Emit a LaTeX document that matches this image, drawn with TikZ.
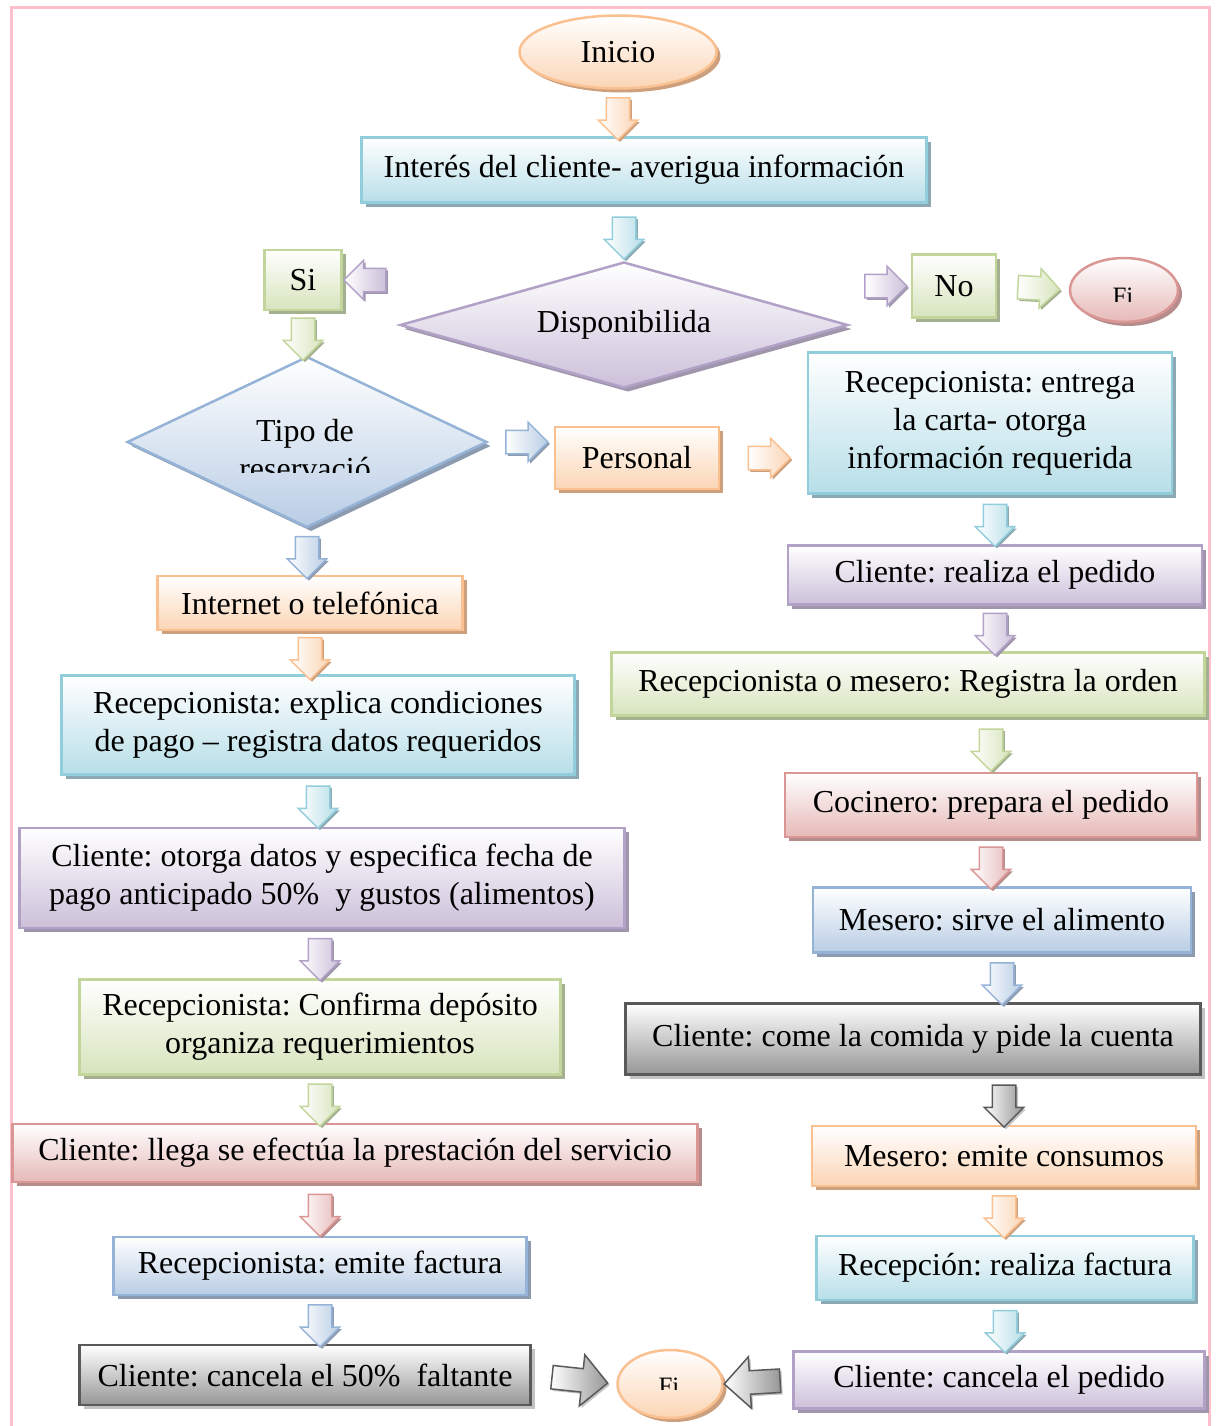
\documentclass[tikz,border=0pt]{standalone}
\usepackage{fontspec}
\setmainfont{Liberation Serif}
\frenchspacing
\usetikzlibrary{shapes.geometric, shapes.arrows, shadows}
\definecolor{narB}{RGB}{250,192,144}
\definecolor{narF}{RGB}{251,213,181}
\definecolor{narS}{RGB}{205,160,125}
\definecolor{aquB}{RGB}{146,205,220}
\definecolor{aquF}{RGB}{183,222,232}
\definecolor{aquS}{RGB}{140,168,178}
\definecolor{lilB}{RGB}{178,161,199}
\definecolor{lilF}{RGB}{204,192,218}
\definecolor{lilS}{RGB}{160,150,172}
\definecolor{verB}{RGB}{194,214,155}
\definecolor{verF}{RGB}{215,228,189}
\definecolor{verS}{RGB}{165,176,145}
\definecolor{rojB}{RGB}{217,150,148}
\definecolor{rojF}{RGB}{230,185,184}
\definecolor{rojS}{RGB}{182,140,140}
\definecolor{azuB}{RGB}{149,179,215}
\definecolor{azuF}{RGB}{185,205,229}
\definecolor{azuS}{RGB}{140,155,176}
\definecolor{griB}{RGB}{89,89,89}
\definecolor{griF}{RGB}{150,150,150}
\definecolor{griS}{RGB}{195,195,195}
\definecolor{marco}{RGB}{255,192,203}
\tikzset{
  caja/.style  ={rectangle, draw=#1B, line width=2.5pt, top color=white, bottom color=#1F, align=center, inner sep=2pt,
                 drop shadow={fill=#1S, opacity=1, shadow xshift=4pt, shadow yshift=-4pt}},
  elip/.style  ={caja=#1, ellipse},
  rombo/.style ={caja=#1, diamond, inner sep=0pt},
  flecha/.style={single arrow, draw=#1B, line width=1.5pt, left color=white, right color=#1F, inner xsep=0pt, inner ysep=11pt,
                 minimum height=42pt, single arrow head extend=8pt, sloped, allow upside down,
                 drop shadow={fill=#1S, opacity=1, shadow xshift=2pt, shadow yshift=-2pt}},
  txt/.style   ={inner sep=0pt, align=center},
}
\begin{document}
\begin{tikzpicture}[x=1pt, y=-1pt, font=\fontsize{32}{38}\selectfont]
  \useasboundingbox (0,0) rectangle (1215,1426);
  \draw[marco, line width=3pt] (11,8) rectangle (1209,1440);

  \node[elip=nar, minimum width=197pt, minimum height=73pt] (ini) at (618,52) {Inicio};
  \node[caja=aqu, minimum width=565pt, minimum height=65pt] (int) at (644,170) {Interés del cliente- averigua información};
  \node[rombo=lil, aspect=3.55, minimum width=448pt, minimum height=126pt] (disp) at (624,325) {Disponibilida};
  \node[caja=ver, minimum width=77pt, minimum height=60pt] (si) at (303,280) {Si};
  \node[caja=ver, minimum width=84pt, minimum height=63pt] (no) at (954,286) {No};
  \node[elip=roj, minimum width=108pt, minimum height=64pt] (fin1) at (1124,290) {};
  \begin{scope}
    \clip (1080,270) rectangle (1170,301);
    \node[txt, anchor=base, font=\fontsize{25}{30}\selectfont] (fin1t) at (1123,304) {Fi};
  \end{scope}
  \node[rombo=azu, aspect=2.1, minimum width=360pt, minimum height=171pt] (tipo) at (307,442) {};
  \begin{scope}
    \clip (150,400) rectangle (470,472);
    \node[txt] (tipot) at (305,450) {Tipo de\\reservació};
  \end{scope}
  \node[caja=nar, minimum width=164pt, minimum height=62pt] (per) at (637,458) {Personal};
  \node[caja=aqu, minimum width=364pt, minimum height=141pt] (rent) at (990,423) {Recepcionista: entrega\\la carta- otorga\\información requerida};
  \node[caja=nar, minimum width=305pt, minimum height=54pt] (inet) at (310,603) {Internet o telefónica};
  \node[caja=aqu, minimum width=513pt, minimum height=99pt] (rexp) at (318,725) {Recepcionista: explica condiciones\\de pago – registra datos requeridos};
  \node[caja=lil, minimum width=605pt, minimum height=100pt] (otor) at (322,878) {Cliente: otorga datos y especifica fecha de\\pago anticipado 50\%~ y gustos (alimentos)};
  \node[caja=ver, minimum width=481pt, minimum height=95pt] (conf) at (320,1027) {Recepcionista: Confirma depósito\\organiza requerimientos};
  \node[caja=roj, minimum width=685pt, minimum height=58pt] (lleg) at (355,1153) {Cliente: llega se efectúa la prestación del servicio};
  \node[caja=azu, minimum width=413pt, minimum height=58pt] (remi) at (320,1266) {Recepcionista: emite factura};
  \node[caja=gri, minimum width=451pt, minimum height=60pt] (can50) at (305,1375) {Cliente: cancela el 50\%~ faltante};
  \node[elip=nar, minimum width=105pt, minimum height=68pt] (fin2) at (670,1384) {};
  \begin{scope}
    \clip (630,1360) rectangle (710,1389);
    \node[txt, anchor=base, font=\fontsize{25}{30}\selectfont] (fin2t) at (669,1394) {Fi};
  \end{scope}
  \node[caja=lil, minimum width=414pt, minimum height=59pt] (real) at (995,575) {Cliente: realiza el pedido};
  \node[caja=ver, minimum width=593pt, minimum height=63pt] (regi) at (908,684) {Recepcionista o mesero: Registra la orden};
  \node[caja=roj, minimum width=412pt, minimum height=64pt] (coci) at (991,805) {Cocinero: prepara el pedido};
  \node[caja=azu, minimum width=378pt, minimum height=65pt] (mser) at (1002,920) {Mesero: sirve el alimento};
  \node[caja=gri, minimum width=575pt, minimum height=71pt] (come) at (913,1039) {Cliente: come la comida y pide la cuenta};
  \node[caja=nar, minimum width=384pt, minimum height=60pt] (emic) at (1004,1156) {Mesero: emite consumos};
  \node[caja=aqu, minimum width=377pt, minimum height=64pt] (rfac) at (1005,1268) {Recepción: realiza factura};
  \node[caja=lil, minimum width=411pt, minimum height=57pt] (canp) at (999,1380) {Cliente: cancela el pedido};

  \path (ini.south) -- node[flecha=nar] (f1) {} (ini.south |- int.north);
  \path (int.south -| disp.north) -- node[flecha=aqu] (f2) {} (disp.north);
  \path (disp.west |- si.east) -- node[flecha=lil] (f3) {} (si.east);
  \path (disp.east |- no.west) -- node[flecha=lil] (f4) {} (no.west);
  \path (no.east) -- node[flecha=ver] (f5) {} (fin1.west);
  \path (si.south) -- node[flecha=ver] (f6) {} (si.south |- tipo.north);
  \path (tipo.east) -- node[flecha=azu] (f7) {} (tipo.east -| per.west);
  \path (per.east) -- node[flecha=nar] (f8) {} (per.east -| rent.west);
  \path (tipo.south) -- node[flecha=azu] (f9) {} (tipo.south |- inet.north);
  \path (inet.south) -- node[flecha=nar] (f10) {} (inet.south |- rexp.north);
  \path (rexp.south) -- node[flecha=aqu] (f11) {} (rexp.south |- otor.north);
  \path (otor.south -| conf.north) -- node[flecha=lil] (f12) {} (conf.north);
  \path (conf.south) -- node[flecha=ver] (f13) {} (conf.south |- lleg.north);
  \path (lleg.south -| remi.north) -- node[flecha=roj] (f14) {} (remi.north);
  \path (remi.south) -- node[flecha=azu] (f15) {} (remi.south |- can50.north);
  \path (can50.east) -- node[flecha=gri, minimum height=56pt, single arrow head extend=14pt] (f16) {} (fin2.west);
  \path (canp.west) -- node[flecha=gri, minimum height=56pt, single arrow head extend=14pt] (f17) {} (fin2.east);
  \path (rent.south -| real.north) -- node[flecha=aqu] (f18) {} (real.north);
  \path (real.south) -- node[flecha=lil] (f19) {} (real.south |- regi.north);
  \path (regi.south -| coci.north) -- node[flecha=ver] (f20) {} (coci.north);
  \path (coci.south) -- node[flecha=roj] (f21) {} (coci.south |- mser.north);
  \path (mser.south) -- node[flecha=azu] (f22) {} (mser.south |- come.north);
  \path (come.south -| emic.north) -- node[flecha=gri] (f23) {} (emic.north);
  \path (emic.south) -- node[flecha=nar] (f24) {} (emic.south |- rfac.north);
  \path (rfac.south) -- node[flecha=aqu] (f25) {} (rfac.south |- canp.north);
\end{tikzpicture}
\end{document}
